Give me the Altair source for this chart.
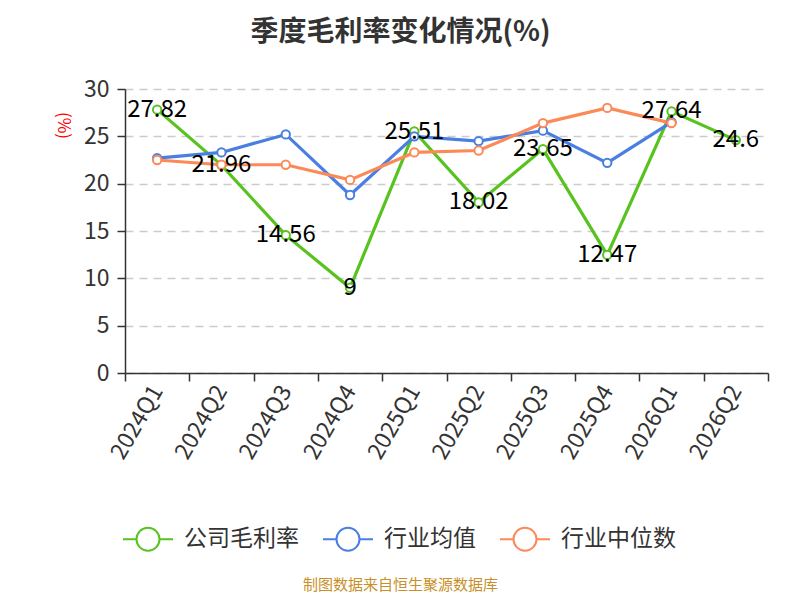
import altair as alt
import pandas as pd

quarters = ["2024Q1", "2024Q2", "2024Q3", "2024Q4", "2025Q1",
            "2025Q2", "2025Q3", "2025Q4", "2026Q1", "2026Q2"]
company = [27.82, 21.96, 14.56, 9, 25.51, 18.02, 23.65, 12.47, 27.64, 24.6]
industry_avg = [22.7, 23.3, 25.2, 18.8, 25.0, 24.5, 25.6, 22.2, 26.5]
industry_median = [22.5, 22.0, 22.0, 20.4, 23.3, 23.5, 26.4, 28.0, 26.4]

series_names = ["公司毛利率", "行业均值", "行业中位数"]
series_colors = ["#58c21e", "#4a7fe2", "#fc8a58"]

rows = []
for name, vals in zip(series_names, [company, industry_avg, industry_median]):
    for q, v in zip(quarters, vals):
        rows.append({"quarter": q, "value": v, "series": name})
df = pd.DataFrame(rows)
df_company = df[df["series"] == "公司毛利率"].copy()
df_company["label"] = [f"{v:g}" for v in company]

FONT = "Noto Sans CJK SC"

x_enc = alt.X(
    "quarter:N", sort=quarters, bandPosition=0.5,
    scale=alt.Scale(type="band", paddingInner=0, paddingOuter=0),
    axis=alt.Axis(
        tickBand="extent", labelAngle=-60, labelAlign="right", labelBaseline="middle",
        labelFontSize=23, labelColor="#333333", labelPadding=6, tickSize=8,
        tickColor="#333333", tickWidth=1.5, domainColor="#333333", domainWidth=1.5,
        grid=False, labelFont=FONT,
        title="制图数据来自恒生聚源数据库", titleFont=FONT, titleFontSize=15,
        titleFontWeight="normal", titleColor="#c8902a", titleX=275, titleY=211,
        titleAlign="center", titleBaseline="middle",
    ),
)
y_enc = alt.Y(
    "value:Q", scale=alt.Scale(domain=[0, 30], nice=False),
    axis=alt.Axis(
        values=[0, 5, 10, 15, 20, 25, 30], labelFontSize=23, labelColor="#333333",
        labelFont=FONT, labelPadding=8, tickSize=8, tickColor="#333333", tickWidth=1.5,
        domainColor="#333333", domainWidth=1.5, grid=True, gridDash=[8, 6],
        gridColor="#cccccc", gridWidth=1.5,
        title="(%)", titleColor="#ff0000", titleFont=FONT, titleFontSize=17,
        titleFontWeight="normal", titleAngle=90, titleX=-63, titleY=36,
        titleAlign="center", titleBaseline="middle",
    ),
)
color_scale = alt.Scale(domain=series_names, range=series_colors)
color_enc = alt.Color(
    "series:N", sort=series_names, scale=color_scale,
    legend=alt.Legend(
        title=None, orient="none", direction="horizontal", legendX=-3, legendY=424,
        symbolType="M-1,0L-0.46,0M0.46,0L1,0M0.46,0A0.46,0.46 0 1,1 -0.46,0A0.46,0.46 0 1,1 0.46,0",
        symbolSize=2500, symbolStrokeWidth=2, symbolFillColor="white",
        labelFontSize=23, labelColor="#333333", labelFont=FONT, labelOffset=10,
        columnPadding=20,
    ),
)

lines = alt.Chart(df).mark_line(strokeWidth=3.2).encode(x=x_enc, y=y_enc, color=color_enc)
points = alt.Chart(df).mark_point(filled=False, fill="white", fillOpacity=1, size=70,
                                  strokeWidth=2, opacity=1).encode(
    x=x_enc, y=y_enc,
    stroke=alt.Stroke("series:N", sort=series_names, scale=color_scale, legend=None),
)
labels = alt.Chart(df_company).mark_text(
    fontSize=24, color="black", font=FONT, align="center", baseline="middle"
).encode(x=x_enc, y=y_enc, text="label:N")

chart = alt.layer(lines, points, labels).properties(
    width=643, height=284,
    autosize=alt.AutoSizeParams(type="none"),
    padding={"left": 117, "top": 81, "right": 24, "bottom": 219},
    title=alt.TitleParams(
        "季度毛利率变化情况(%)", anchor="middle", frame="group", dx=-46, offset=31,
        fontSize=28, fontWeight="bold", color="#333333", font=FONT,
    ),
).resolve_scale(stroke="independent").configure_view(stroke=None)

chart.save("out.html", embed_options={"renderer": "svg", "actions": False})
